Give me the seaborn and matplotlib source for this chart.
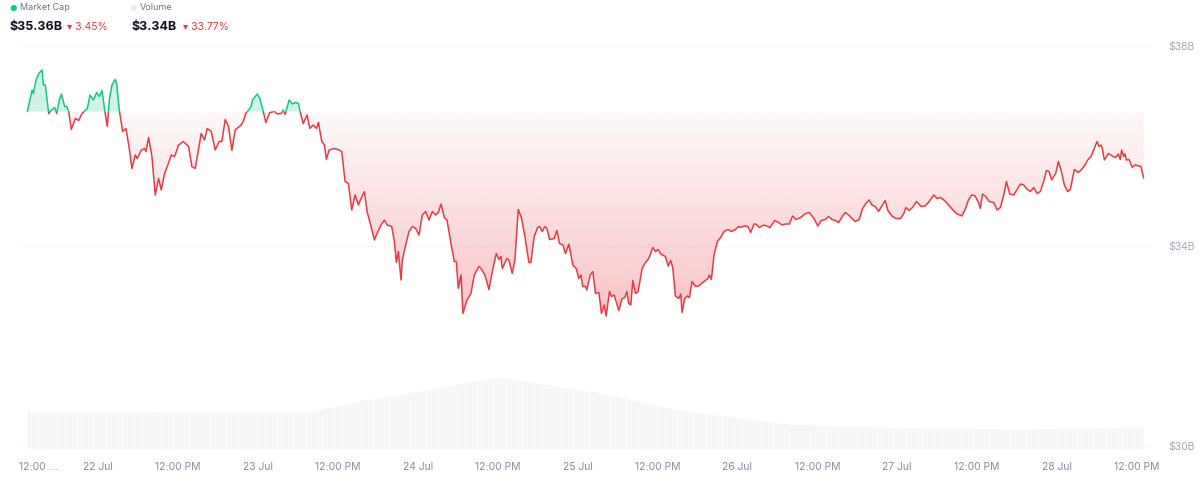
import numpy as np
import pandas as pd
import seaborn as sns
import matplotlib.pyplot as plt
from matplotlib.colors import to_rgb
from matplotlib.patches import Rectangle
from matplotlib.path import Path

# hours since 22 Jul 00:00 and market cap in $B
hours = [
    -10.6, -9.9, -9.7, -9.3, -8.9, -8.4, -8.2, -7.9, -7.4, -7.0, -6.5, -6.2, -5.8, -5.5, -5.0, -4.7,
    -4.4, -4.0, -3.4, -2.9, -2.4, -1.6, -1.2, -0.7, -0.2, 0.2, 0.6, 1.0, 1.4, 1.7, 2.1, 2.6, 2.8,
    3.2, 3.7, 4.2, 4.7, 5.1, 5.6, 5.9, 6.5, 7.0, 7.2, 7.6, 8.1, 8.6, 9.1, 9.5, 10.0, 10.4, 11.0,
    11.5, 12.1, 12.8, 13.6, 14.1, 14.6, 15.5, 16.0, 16.4, 17.0, 17.6, 18.2, 18.6, 19.1, 19.6, 20.1,
    20.6, 21.5, 21.8, 22.2, 23.0, 23.2, 23.9, 24.3, 24.7, 25.2, 25.8, 26.5, 26.9, 27.5, 27.8, 28.1,
    28.7, 29.2, 29.6, 30.1, 30.3, 30.8, 31.4, 31.8, 32.3, 32.8, 33.1, 33.6, 34.0, 34.3, 34.7, 35.5,
    36.2, 36.6, 37.1, 37.6, 38.1, 38.6, 39.1, 39.5, 40.0, 40.4, 41.0, 41.5, 41.8, 42.5, 43.0, 43.4,
    44.1, 44.5, 44.8, 45.1, 45.5, 45.7, 46.2, 46.7, 47.2, 47.7, 48.2, 48.7, 49.2, 49.7, 50.2, 50.7,
    51.1, 51.5, 52.0, 52.4, 53.0, 53.5, 53.8, 54.1, 54.5, 54.8, 55.4, 56.0, 56.5, 57.2, 57.5, 58.1,
    58.7, 59.3, 59.8, 60.2, 60.5, 60.7, 61.4, 61.7, 62.2, 62.6, 63.1, 63.6, 64.1, 64.7, 65.0, 65.5,
    66.0, 66.3, 66.7, 67.1, 67.4, 67.8, 68.5, 68.9, 69.3, 69.8, 70.2, 70.7, 71.3, 71.8, 72.2, 72.5,
    72.8, 73.2, 73.4, 73.9, 74.3, 74.7, 75.2, 75.6, 76.0, 76.3, 76.8, 77.1, 77.5, 78.2, 78.7, 79.1,
    79.4, 79.7, 80.0, 80.3, 80.7, 81.1, 81.7, 82.2, 82.7, 83.3, 83.7, 84.1, 84.5, 85.2, 85.6, 86.0,
    86.3, 86.7, 87.2, 87.5, 87.7, 88.1, 88.5, 88.8, 89.2, 89.7, 90.2, 91.0, 91.6, 91.8, 92.1, 92.5,
    93.0, 93.5, 94.0, 94.6, 95.1, 95.7, 96.2, 96.4, 97.1, 97.6, 98.0, 98.5, 98.8, 99.3, 100.0, 100.4,
    100.9, 101.6, 102.2, 102.7, 103.2, 103.8, 104.3, 104.8, 105.5, 106.1, 106.8, 107.5, 108.1, 108.6,
    109.2, 109.7, 110.2, 110.7, 111.2, 111.8, 112.2, 112.7, 113.2, 113.7, 114.3, 114.8, 115.3, 115.8,
    116.2, 116.7, 117.2, 117.7, 118.2, 118.6, 119.2, 119.8, 120.5, 121.0, 121.3, 121.8, 122.3, 122.9,
    123.6, 124.2, 124.8, 125.5, 126.0, 126.5, 127.1, 127.7, 128.3, 128.9, 129.7, 130.2, 130.7, 131.2,
    131.7, 132.2, 132.5, 132.8, 133.3, 133.8, 134.5, 135.0, 135.5, 136.0, 136.4, 136.9, 137.5, 138.0,
    138.5, 139.0, 139.4, 140.0, 140.5, 141.0, 141.5, 142.0, 142.4, 142.8, 143.2, 143.5, 143.8, 144.2,
    144.6, 145.1, 145.6, 146.0, 146.6, 147.2, 147.7, 148.1, 148.6, 149.1, 149.5, 150.0, 150.3, 150.6,
    150.8, 151.1, 151.7, 152.3, 152.8, 153.2, 153.5, 153.7, 154.0, 154.2, 154.4, 154.8, 155.3, 155.7,
    156.3, 156.6, 157.0,
]
market_cap = [
    36.69, 37.12, 37.05, 37.32, 37.45, 37.52, 37.22, 37.22, 36.65, 36.72, 36.77, 36.65, 36.92, 37.04, 36.79, 36.79,
    36.69, 36.33, 36.55, 36.51, 36.65, 36.75, 37.02, 36.92, 37.07, 36.99, 37.11, 36.72, 36.39, 36.92, 37.22, 37.33, 37.25,
    36.72, 36.29, 36.35, 35.95, 35.55, 35.82, 35.75, 35.92, 35.95, 35.89, 36.17, 35.79, 35.02, 35.35, 35.12, 35.45, 35.59, 35.82,
    35.79, 36.02, 36.09, 35.99, 35.59, 35.55, 36.25, 36.12, 36.35, 36.29, 35.92, 36.09, 36.09, 36.53, 36.39, 35.91,
    36.32, 36.42, 36.49, 36.65, 36.79, 36.92, 37.04, 36.95, 36.75, 36.47, 36.67, 36.69, 36.64, 36.65, 36.72, 36.63,
    36.92, 36.84, 36.87, 36.85, 36.72, 36.45, 36.62, 36.35, 36.42, 36.35, 36.47, 36.09, 36.02, 35.73, 35.92, 35.95,
    35.92, 35.89, 35.29, 35.25, 34.72, 35.02, 34.82, 34.95, 35.09, 34.69, 34.39, 34.12, 34.22, 34.42, 34.52, 34.42,
    34.39, 34.09, 33.67, 33.89, 33.32, 33.72, 34.02, 34.29, 34.39, 34.35, 34.22, 34.62, 34.69, 34.52, 34.69, 34.62,
    34.67, 34.84, 34.57, 34.52, 34.05, 33.69, 33.69, 33.15, 33.42, 32.65, 32.92, 33.05, 33.42, 33.59, 33.55, 33.42,
    33.13, 33.55, 33.85, 33.73, 33.79, 33.55, 33.75, 33.72, 33.45, 33.72, 34.73, 34.55, 34.19, 33.67, 33.67, 34.19,
    34.37, 34.39, 34.29, 34.39, 34.35, 34.13, 34.15, 34.31, 34.05, 34.02, 33.85, 34.04, 33.62, 33.55, 33.35, 33.42,
    33.19, 33.19, 33.12, 33.42, 33.49, 33.05, 33.07, 32.65, 32.82, 32.60, 33.09, 32.99, 33.02, 32.71, 32.95, 32.97,
    33.09, 32.85, 32.82, 33.31, 33.05, 33.09, 33.55, 33.67, 33.75, 33.97, 33.89, 33.93, 33.84, 33.79, 33.60, 33.71,
    33.57, 33.00, 32.95, 33.04, 32.67, 32.95, 33.00, 32.97, 33.29, 33.19, 33.20, 33.29, 33.35, 33.42, 33.33, 33.82,
    34.09, 34.17, 34.29, 34.33, 34.29, 34.33, 34.39, 34.37, 34.40, 34.39, 34.27, 34.44, 34.44, 34.37, 34.42, 34.40,
    34.37, 34.51, 34.47, 34.42, 34.44, 34.44, 34.60, 34.53, 34.57, 34.64, 34.67, 34.55, 34.40, 34.51,
    34.53, 34.59, 34.53, 34.51, 34.47, 34.60, 34.67, 34.62, 34.55, 34.49, 34.53, 34.75, 34.85, 34.92,
    34.82, 34.79, 34.69, 34.80, 34.91, 34.71, 34.60, 34.55, 34.55, 34.65, 34.77, 34.71, 34.77, 34.89,
    34.79, 34.80, 34.89, 35.02, 34.95, 34.97, 34.91, 34.82, 34.73, 34.65, 34.60, 34.73, 34.92, 35.02,
    35.00, 34.87, 34.75, 35.04, 34.99, 34.89, 34.87, 34.72, 34.77, 35.02, 35.29, 35.04, 35.02, 35.13,
    35.24, 35.22, 35.15, 35.09, 35.17, 35.05, 35.09, 35.29, 35.51, 35.49, 35.32, 35.39, 35.45, 35.69,
    35.52, 35.22, 35.09, 35.13, 35.53, 35.47, 35.53, 35.60, 35.72, 35.79, 35.92, 36.09, 35.99, 36.02,
    35.95, 35.72, 35.85, 35.80, 35.77, 35.84, 35.73, 35.92, 35.79, 35.84, 35.72, 35.73, 35.57, 35.62,
    35.60, 35.59, 35.36,
]

# volume ($B) profile, same hour axis
vol_hours = [-10.6, 9.3, 31.8, 38.1, 48.3, 60.1, 75.1, 86.9, 104.1, 121.3, 138.6, 157.0]
volume = [5.5, 5.6, 5.5, 7.0, 8.7, 10.9, 8.5, 5.9, 3.65, 3.2, 2.9, 3.34]

tick_hours = [-9, 0, 12, 24, 36, 48, 60, 72, 84, 96, 108, 120, 132, 144, 156]
tick_labels = ['12:00 ...', '22 Jul', '12:00 PM', '23 Jul', '12:00 PM', '24 Jul', '12:00 PM',
               '25 Jul', '12:00 PM', '26 Jul', '12:00 PM', '27 Jul', '12:00 PM', '28 Jul', '12:00 PM']
ytick_values = [30, 34, 38]
ytick_labels = ['$30B', '$34B', '$38B']

GREEN = '#16c784'
RED = '#ea3943'

sns.set_style('white')
plt.rcParams['font.family'] = ['Inter', 'DejaVu Sans']
plt.rcParams['hatch.linewidth'] = 0.6

df = pd.DataFrame({'hours': hours, 'cap': market_cap})
base = df.cap.iloc[0]
x = df.hours.to_numpy()
y = df.cap.to_numpy()

W, H = 1200, 484
fig = plt.figure(figsize=(12, 4.84), dpi=100)
ax = fig.add_axes([20 / W, 32 / H, 1130 / W, 432 / H])
xlim = ((20 - 98) / 6.66, (1150 - 98) / 6.66)
ylim = (29.88, 38.52)

# volume on its own scale at the bottom
ax2 = ax.twinx()
ax2.fill_between(vol_hours, volume, 0, color='#f5f6f8', lw=0, hatch='||||', edgecolor='#fcfcfd')
ax2.set_ylim(-0.45, 65.2)
ax2.set_yticks([])
for s in ax2.spines.values():
    s.set_visible(False)

# green area above the opening value
ax.fill_between(x, y, base, where=y >= base, interpolate=True, color=GREEN, alpha=0.2, lw=0)

# red gradient area below the opening value
poly = ax.fill_between(x, y, base, where=y <= base, interpolate=True, color='none', lw=0)
clip = Path.make_compound_path(*poly.get_paths())
grad = np.zeros((256, 1, 4))
grad[..., :3] = to_rgb(RED)
grad[..., 3] = np.linspace(0.30, 0.03, 256)[:, None]
im = ax.imshow(grad, extent=[x.min(), x.max(), y.min(), base], origin='lower',
               aspect='auto', zorder=1, interpolation='bicubic')
im.set_clip_path(clip, transform=ax.transData)

# line, green above / red below the opening value
sns.lineplot(data=df, x='hours', y='cap', color=GREEN, lw=1.1, ax=ax, zorder=3)
ax.lines[-1].set_clip_path(Rectangle((xlim[0], base), xlim[1] - xlim[0], ylim[1] - base,
                                     transform=ax.transData))
sns.lineplot(data=df, x='hours', y='cap', color=RED, lw=1.1, ax=ax, zorder=3)
ax.lines[-1].set_clip_path(Rectangle((xlim[0], ylim[0]), xlim[1] - xlim[0], base - ylim[0],
                                     transform=ax.transData))

ax.set_xlim(xlim)
ax.set_ylim(ylim)
ax.set_xlabel('')
ax.set_ylabel('')
ax.yaxis.tick_right()
ax.set_yticks(ytick_values)
ax.set_yticklabels(ytick_labels)
ax.set_xticks(tick_hours)
ax.set_xticklabels(tick_labels)
ax.tick_params(axis='y', length=0, pad=13, labelsize=7.5, labelcolor='#a1a7bb')
ax.tick_params(axis='x', length=0, pad=7, labelsize=7.5, labelcolor='#858ca2')
ax.grid(axis='y', color='#f8f8fa', lw=0.8)
ax.grid(axis='x', visible=False)
for s in ax.spines.values():
    s.set_visible(False)
ax.patch.set_alpha(0)

ax.text(0.985, 0.035, 'CoinMarketCap', transform=ax.transAxes, ha='right', va='center',
        fontsize=6, color='#e3e5ea')

# header
def fx(px):
    return px / W

def fy(py):
    return 1 - py / H

fig.text(fx(13), fy(8), '●', color=GREEN, fontsize=6, ha='center', va='center')
fig.text(fx(20), fy(8), 'Market Cap', color='#6b7385', fontsize=6.5, va='center')
fig.text(fx(133), fy(8), '●', color='#eceef1', fontsize=6, ha='center', va='center')
fig.text(fx(140), fy(8), 'Volume', color='#6b7385', fontsize=6.5, va='center')
fig.text(fx(10), fy(27), '$35.36B', color='#0d1421', fontsize=9, fontweight='bold', va='center')
fig.text(fx(67), fy(27), '▾ 3.45%', color=RED, fontsize=7.5, va='center')
fig.text(fx(131), fy(27), '$3.34B', color='#0d1421', fontsize=9, fontweight='bold', va='center')
fig.text(fx(183), fy(27), '▾ 33.77%', color=RED, fontsize=7.5, va='center')

fig.savefig('out.png', dpi=100)
